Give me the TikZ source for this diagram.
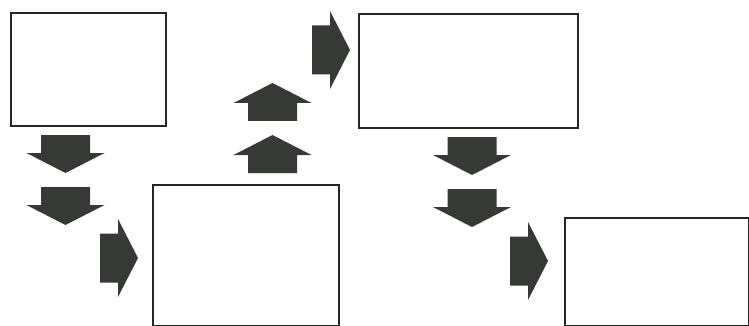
\documentclass[tikz,border=0pt]{standalone}
\definecolor{arrfill}{HTML}{353A35}
\definecolor{boxline}{HTML}{262626}
\tikzset{
  box/.style={draw=boxline, line width=1.9pt, fill=white, anchor=north west, inner sep=0pt},
  pics/blockarrow/.style={code={
    \fill[arrfill] (0,-24.5) -- (18,-24.5) -- (18,-39) -- (38,0) -- (18,39) -- (18,24.5) -- (0,24.5) -- cycle;
  }}
}
\begin{document}
\begin{tikzpicture}[x=1pt,y=-1pt]
\useasboundingbox (0,0) rectangle (749,326);
\clip (0,0) rectangle (749,326);
\fill[white] (0,0) rectangle (749,326);
% boxes
\node[box, minimum width=155pt, minimum height=113pt] (a) at (10,12) {};
\node[box, minimum width=186pt, minimum height=141pt] (b) at (152,184) {};
\node[box, minimum width=219pt, minimum height=114pt] (c) at (358,13) {};
\node[box, minimum width=184pt, minimum height=108pt] (d) at (564,217) {};
% down arrows (left)
\pic[rotate=-90] (dn1) at (65.5,135) {blockarrow};
\pic[rotate=-90] (dn2) at (65.5,187) {blockarrow};
% right arrow to b
\pic (r1) at (100,258) {blockarrow};
% up arrows
\pic[rotate=90] (up1) at (272.5,121) {blockarrow};
\pic[rotate=90] (up2) at (272.5,173) {blockarrow};
% right arrow to c
\pic (r2) at (312,50) {blockarrow};
% down arrows (right)
\pic[rotate=-90] (dn3) at (472,137) {blockarrow};
\pic[rotate=-90] (dn4) at (472,189) {blockarrow};
% right arrow to d
\pic (r3) at (510,261) {blockarrow};
\end{tikzpicture}
\end{document}
